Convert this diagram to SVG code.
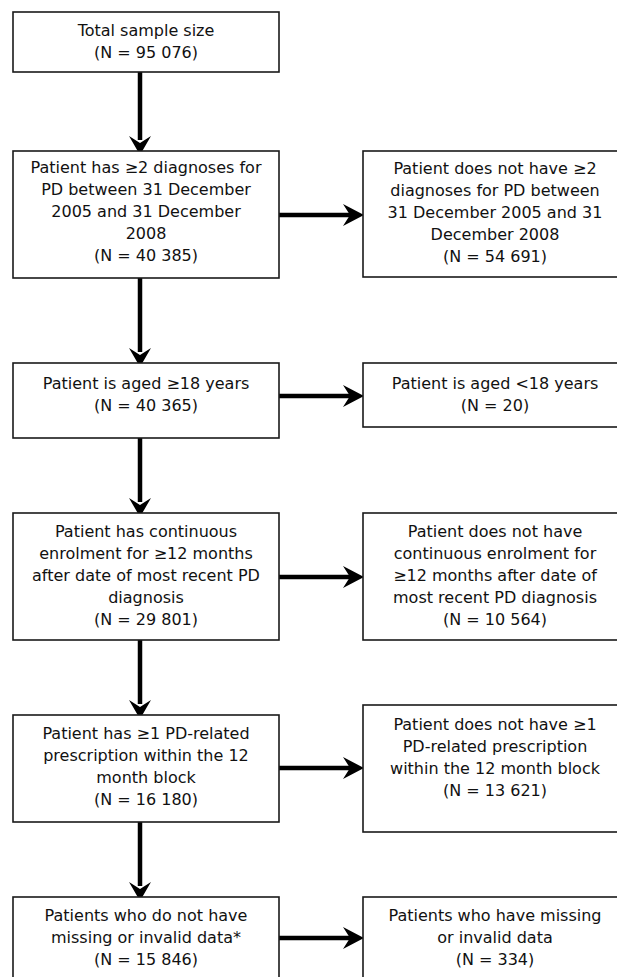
<svg xmlns="http://www.w3.org/2000/svg" width="617" height="977" viewBox="0 0 617 977">
<style>
.box{fill:#fff;stroke:#1a1a1a;stroke-width:1.6}
.t{font-family:"DejaVu Sans",Verdana,sans-serif;font-size:16px;fill:#111;text-anchor:middle}
.ln{stroke:#000;stroke-width:4.5;fill:none}
.hd{fill:#000}
</style>
<rect width="617" height="977" fill="#fff"/>
<g id="connectors">
  <line class="ln" x1="140" y1="72" x2="140" y2="140"/>
  <path class="hd" d="M140,155 L129,136 L140,143 L151,136 Z"/>
  <line class="ln" x1="140" y1="278" x2="140" y2="352"/>
  <path class="hd" d="M140,367 L129,348 L140,355 L151,348 Z"/>
  <line class="ln" x1="140" y1="438" x2="140" y2="502"/>
  <path class="hd" d="M140,517 L129,498 L140,505 L151,498 Z"/>
  <line class="ln" x1="140" y1="640" x2="140" y2="704"/>
  <path class="hd" d="M140,719 L129,700 L140,707 L151,700 Z"/>
  <line class="ln" x1="140" y1="822" x2="140" y2="886"/>
  <path class="hd" d="M140,901 L129,882 L140,889 L151,882 Z"/>

  <line class="ln" x1="279" y1="215" x2="350" y2="215"/>
  <path class="hd" d="M364,215 L343,204 L350,215 L343,226 Z"/>
  <line class="ln" x1="279" y1="396" x2="350" y2="396"/>
  <path class="hd" d="M364,396 L343,385 L350,396 L343,407 Z"/>
  <line class="ln" x1="279" y1="577" x2="350" y2="577"/>
  <path class="hd" d="M364,577 L343,566 L350,577 L343,588 Z"/>
  <line class="ln" x1="279" y1="768" x2="350" y2="768"/>
  <path class="hd" d="M364,768 L343,757 L350,768 L343,779 Z"/>
  <line class="ln" x1="279" y1="938" x2="350" y2="938"/>
  <path class="hd" d="M364,938 L343,927 L350,938 L343,949 Z"/>
</g>

<g id="total">
  <rect class="box" x="13" y="12" width="266" height="60"/>
  <text class="t" x="146" y="36">Total sample size</text>
  <text class="t" x="146" y="58">(N = 95 076)</text>
</g>
<g id="diag-yes">
  <rect class="box" x="13" y="151" width="266" height="127"/>
  <text class="t" x="146" y="173">Patient has ≥2 diagnoses for</text>
  <text class="t" x="146" y="195">PD between 31 December</text>
  <text class="t" x="146" y="217">2005 and 31 December</text>
  <text class="t" x="146" y="239">2008</text>
  <text class="t" x="146" y="261">(N = 40 385)</text>
</g>
<g id="diag-no">
  <rect class="box" x="363" y="151" width="264" height="126"/>
  <text class="t" x="495" y="174">Patient does not have ≥2</text>
  <text class="t" x="495" y="196">diagnoses for PD between</text>
  <text class="t" x="495" y="218">31 December 2005 and 31</text>
  <text class="t" x="495" y="240">December 2008</text>
  <text class="t" x="495" y="262">(N = 54 691)</text>
</g>
<g id="age-yes">
  <rect class="box" x="13" y="363" width="266" height="75"/>
  <text class="t" x="146" y="389">Patient is aged ≥18 years</text>
  <text class="t" x="146" y="411">(N = 40 365)</text>
</g>
<g id="age-no">
  <rect class="box" x="363" y="363" width="264" height="64"/>
  <text class="t" x="495" y="389">Patient is aged &lt;18 years</text>
  <text class="t" x="495" y="411">(N = 20)</text>
</g>
<g id="enrol-yes">
  <rect class="box" x="13" y="513" width="266" height="127"/>
  <text class="t" x="146" y="537">Patient has continuous</text>
  <text class="t" x="146" y="559">enrolment for ≥12 months</text>
  <text class="t" x="146" y="581">after date of most recent PD</text>
  <text class="t" x="146" y="603">diagnosis</text>
  <text class="t" x="146" y="625">(N = 29 801)</text>
</g>
<g id="enrol-no">
  <rect class="box" x="363" y="513" width="264" height="127"/>
  <text class="t" x="495" y="537">Patient does not have</text>
  <text class="t" x="495" y="559">continuous enrolment for</text>
  <text class="t" x="495" y="581">≥12 months after date of</text>
  <text class="t" x="495" y="603">most recent PD diagnosis</text>
  <text class="t" x="495" y="625">(N = 10 564)</text>
</g>
<g id="rx-yes">
  <rect class="box" x="13" y="715" width="266" height="107"/>
  <text class="t" x="146" y="739">Patient has ≥1 PD-related</text>
  <text class="t" x="146" y="761">prescription within the 12</text>
  <text class="t" x="146" y="783">month block</text>
  <text class="t" x="146" y="805">(N = 16 180)</text>
</g>
<g id="rx-no">
  <rect class="box" x="363" y="705" width="264" height="127"/>
  <text class="t" x="495" y="730">Patient does not have ≥1</text>
  <text class="t" x="495" y="752">PD-related prescription</text>
  <text class="t" x="495" y="774">within the 12 month block</text>
  <text class="t" x="495" y="796">(N = 13 621)</text>
</g>
<g id="data-ok">
  <rect class="box" x="13" y="897" width="266" height="90"/>
  <text class="t" x="146" y="921">Patients who do not have</text>
  <text class="t" x="146" y="943">missing or invalid data*</text>
  <text class="t" x="146" y="965">(N = 15 846)</text>
</g>
<g id="data-missing">
  <rect class="box" x="363" y="897" width="264" height="90"/>
  <text class="t" x="495" y="921">Patients who have missing</text>
  <text class="t" x="495" y="943">or invalid data</text>
  <text class="t" x="495" y="965">(N = 334)</text>
</g>
</svg>
